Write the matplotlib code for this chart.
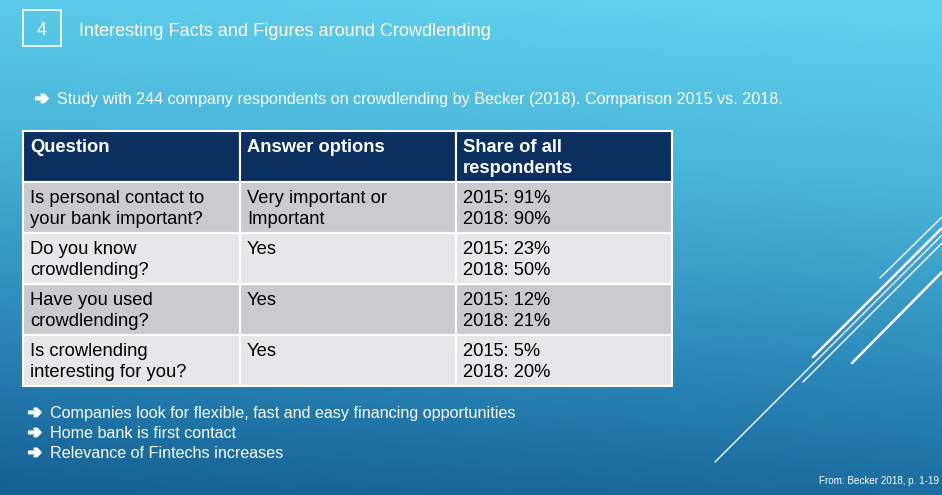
import numpy as np
import matplotlib.pyplot as plt
import matplotlib.patheffects as pe
from matplotlib.patches import Rectangle
from matplotlib.colors import LinearSegmentedColormap

plt.rcParams['font.family'] = ['Liberation Sans', 'DejaVu Sans']

# slide content
slide_no = "4"
title = "Interesting Facts and Figures around Crowdlending"
intro = "Study with 244 company respondents on crowdlending by Becker (2018). Comparison 2015 vs. 2018."
headers = ["Question", "Answer options", "Share of all\nrespondents"]
questions = ["Is personal contact to\nyour bank important?",
             "Do you know\ncrowdlending?",
             "Have you used\ncrowdlending?",
             "Is crowlending\ninteresting for you?"]
answers = ["Very important or\nImportant", "Yes", "Yes", "Yes"]
share_2015 = [91, 23, 12, 5]
share_2018 = [90, 50, 21, 20]
conclusions = ["Companies look for flexible, fast and easy financing opportunities",
               "Home bank is first contact",
               "Relevance of Fintechs increases"]
source = "From: Becker 2018, p. 1-19"

W, H = 942, 495
fig = plt.figure(figsize=(W / 100, H / 100), dpi=100)
ax = fig.add_axes([0, 0, 1, 1])
ax.set_xlim(0, W)
ax.set_ylim(H, 0)
ax.axis('off')

# background gradient (light cyan on top, dark blue at the bottom)
cmap = LinearSegmentedColormap.from_list('bg', ['#62d3ef', '#4ab6da', '#2c8bbb', '#155f94'])
yy, xx = np.mgrid[0:1:200j, 0:1:200j]
grad = yy * 0.9 + (1 - xx) * 0.1
ax.imshow(grad, cmap=cmap, extent=[0, W, H, 0], aspect='auto', zorder=0)

# decorative diagonal lines on the right
deco = [((880, 278), (942, 217), 1.0),
        ((813, 357), (942, 228), 1.8),
        ((715, 462), (942, 235), 1.0),
        ((803, 382), (942, 243), 1.0),
        ((852, 363), (942, 272), 1.8)]
for (x0, y0), (x1, y1), lw in deco:
    ax.plot([x0, x1], [y0, y1], color='white', lw=lw, solid_capstyle='round', zorder=1)

ARROW = "\u2794"
thick = [pe.withStroke(linewidth=1.6, foreground='white')]


def arrow_line(x, y, txt, size, gap=22):
    # y is the text baseline
    ax.text(x, y - 0.5, ARROW, color='white', fontsize=size, family='DejaVu Sans',
            ha='left', va='baseline', path_effects=thick, zorder=3)
    ax.text(x + gap, y, txt, color='white', fontsize=size, ha='left', va='baseline', zorder=3)


# header: number box and title
ax.add_patch(Rectangle((23, 10), 38, 36, fill=False, edgecolor='white', lw=1.2, zorder=2))
ax.text(42, 35, slide_no, color='white', fontsize=13, ha='center', va='baseline', zorder=3)
ax.text(79, 36, title, color='white', fontsize=13.1, ha='left', va='baseline', zorder=3)

arrow_line(35, 104, intro, 11.6)

# table
col_x = [23, 240, 456, 672]
row_y = [131, 182, 233, 284, 335, 386]
header_color = '#0b2f5e'
row_colors = ['#cbcbcf', '#e7e7e9', '#cbcbcf', '#e7e7e9']

rows = [headers] + [[q, a, "2015: %d%%\n2018: %d%%" % (s1, s2)]
                    for q, a, s1, s2 in zip(questions, answers, share_2015, share_2018)]
for r, cells in enumerate(rows):
    y0, y1 = row_y[r], row_y[r + 1]
    fc = header_color if r == 0 else row_colors[r - 1]
    for c, txt in enumerate(cells):
        x0, x1 = col_x[c], col_x[c + 1]
        ax.add_patch(Rectangle((x0, y0), x1 - x0, y1 - y0, facecolor=fc,
                               edgecolor='white', lw=1.5, zorder=2))
        for i, line in enumerate(txt.split("\n")):
            ax.text(x0 + 7, y0 + 21 + 21 * i, line, fontsize=13.2, ha='left', va='baseline',
                    color='white' if r == 0 else 'black',
                    fontweight='bold' if r == 0 else 'normal', zorder=3)

# conclusions
for i, line in enumerate(conclusions):
    arrow_line(28, 418 + 20 * i, line, 11.6)

ax.text(939, 484, source, color='white', fontsize=7.1, ha='right', va='baseline', zorder=3)

fig.savefig('out.png', dpi=100)
